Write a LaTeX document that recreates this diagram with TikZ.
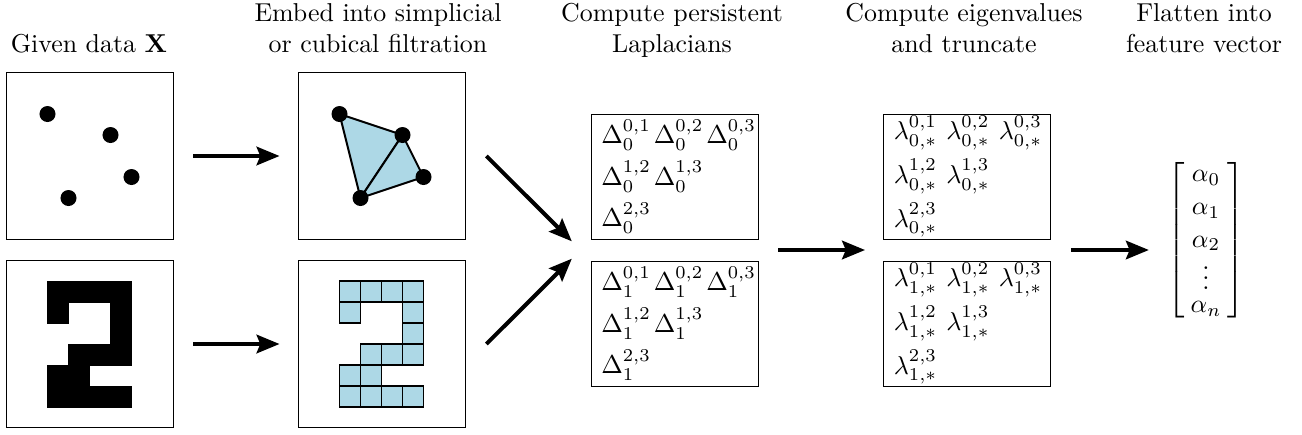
\RequirePackage{fix-cm}
\documentclass[tikz,border=0pt]{standalone}
\usepackage{amsmath,amssymb}
\usepackage{xcolor}
\usepackage{tikz}
\usetikzlibrary{arrows.meta,calc}
\definecolor{cellblue}{HTML}{ADD8E6}
\newcommand{\ent}[1]{\makebox[21.3pt][l]{$#1$}}
\tikzset{panel/.style={draw,line width=0.4pt,minimum width=67.8pt,minimum height=67.8pt,inner sep=0pt}}
\tikzset{specbox/.style={draw,line width=0.4pt,minimum width=67.8pt,minimum height=50.75pt,inner xsep=4.2pt,inner ysep=0pt,text width=59.4pt,align=left}}
\tikzset{title/.style={align=center,anchor=north,inner sep=0pt}}
\tikzset{flow/.style={line width=1.6pt,-{Stealth[length=9.3pt,width=7.5pt,inset=1.5pt]},shorten <=8.1pt,shorten >=7.3pt}}
\tikzset{pix/.style={fill=black,draw=black,line width=0.2pt}}
\tikzset{cube/.style={fill=cellblue,draw=black,line width=0.8pt}}

\begin{document}
\fontsize{10.5}{12.6}\selectfont
\begin{tikzpicture}[x=0.406pt,y=-0.406pt]
    \useasboundingbox (0,0) rectangle (1302,434);

    % column titles
    \node[anchor=base,inner sep=0pt] (t1) at (89,52) {Given data $\mathbf{X}$};
    \node[title] (t2) at (378,3) {Embed into simplicial\\or cubical filtration};
    \node[title] (t3) at (672,3) {Compute persistent\\Laplacians};
    \node[title] (t4) at (964,3) {Compute eigenvalues\\and truncate};
    \node[title] (t5) at (1204,3) {Flatten into\\feature vector};

    % input data and filtrations
    \node[panel] (pts) at (89.5,156) {};
    \node[panel] (img) at (89.5,344) {};
    \node[panel] (cplx) at (381.5,156) {};
    \node[panel] (cub) at (381.5,344) {};

    % point cloud
    \begin{scope}[shift={(pts.center)}]
        \fill (-42,-42) circle (3.25pt);
        \fill (21,-21) circle (3.25pt);
        \fill (42,21) circle (3.25pt);
        \fill (-21,42) circle (3.25pt);
    \end{scope}

    % simplicial complex on the same points
    \begin{scope}[shift={(cplx.center)}]
        \coordinate (v1) at (-42,-42);
        \coordinate (v2) at (21,-21);
        \coordinate (v3) at (42,21);
        \coordinate (v4) at (-21,42);
        \draw[cube,line join=round] (v1) -- (v2) -- (v4) -- cycle;
        \draw[cube,line join=round] (v2) -- (v3) -- (v4) -- cycle;
        \foreach \v in {v1,v2,v3,v4}
            \fill (\v) circle (3.25pt);
    \end{scope}

    % digit image and its cubical complex
    \begin{scope}[shift={(img.center)}]
        \foreach \c/\r in {0/0,1/0,2/0,3/0,0/1,3/1,3/2,1/3,2/3,3/3,0/4,1/4,0/5,1/5,2/5,3/5}
            \draw[pix] (-42+21*\c,-63+21*\r) rectangle ++(21,21);
    \end{scope}
    \begin{scope}[shift={(cub.center)}]
        \foreach \c/\r in {0/0,1/0,2/0,3/0,0/1,3/1,3/2,1/3,2/3,3/3,0/4,1/4,0/5,1/5,2/5,3/5}
            \draw[cube] (-42+21*\c,-63+21*\r) rectangle ++(21,21);
    \end{scope}

    % persistent Laplacians
    \node[specbox] (lapA) at (674.5,176.5) {\ent{\Delta_0^{0,1}}\ent{\Delta_0^{0,2}}$\Delta_0^{0,3}$\\[4.25pt]\ent{\Delta_0^{1,2}}$\Delta_0^{1,3}$\\[4.25pt]$\Delta_0^{2,3}$};
    \node[specbox] (lapB) at (674.5,323.5) {\ent{\Delta_1^{0,1}}\ent{\Delta_1^{0,2}}$\Delta_1^{0,3}$\\[4.25pt]\ent{\Delta_1^{1,2}}$\Delta_1^{1,3}$\\[4.25pt]$\Delta_1^{2,3}$};

    % eigenvalues
    \node[specbox] (eigA) at (967,176.5) {\ent{\lambda_{0,*}^{0,1}}\ent{\lambda_{0,*}^{0,2}}$\lambda_{0,*}^{0,3}$\\[2.75pt]\ent{\lambda_{0,*}^{1,2}}$\lambda_{0,*}^{1,3}$\\[2.75pt]$\lambda_{0,*}^{2,3}$};
    \node[specbox] (eigB) at (967,323.5) {\ent{\lambda_{1,*}^{0,1}}\ent{\lambda_{1,*}^{0,2}}$\lambda_{1,*}^{0,3}$\\[2.75pt]\ent{\lambda_{1,*}^{1,2}}$\lambda_{1,*}^{1,3}$\\[2.75pt]$\lambda_{1,*}^{2,3}$};

    % feature vector
    \node[inner sep=0pt] (vec) at (1206,240.5) {\renewcommand{\arraystretch}{1.05}$\arraycolsep=2.5pt\left[\begin{array}{c}\alpha_0\\ \alpha_1\\ \alpha_2\\ \smash{\raisebox{-4pt}{$\vdots$}}\\ \alpha_n\end{array}\right]$};

    % arrows
    \draw[flow] (pts) -- (cplx);
    \draw[flow] (img) -- (cub);
    \coordinate (lapin) at ($(lapA.south west)!0.5!(lapB.north west)+(-10,0)$);
    \draw[flow,shorten <=0pt,shorten >=5pt] ([xshift=8.5pt]cplx.east) -- (lapin);
    \draw[flow,shorten <=0pt,shorten >=5pt] ([xshift=8.5pt]cub.east) -- (lapin);
    \coordinate (lapout) at ($(lapA.south east)!0.5!(lapB.north east)$);
    \coordinate (eigin) at ($(eigA.south west)!0.5!(eigB.north west)$);
    \draw[flow] (lapout) -- (eigin);
    \coordinate (eigout) at ($(eigA.south east)!0.5!(eigB.north east)$);
    \draw[flow] (eigout) -- (eigout -| vec.west);
\end{tikzpicture}
\end{document}
